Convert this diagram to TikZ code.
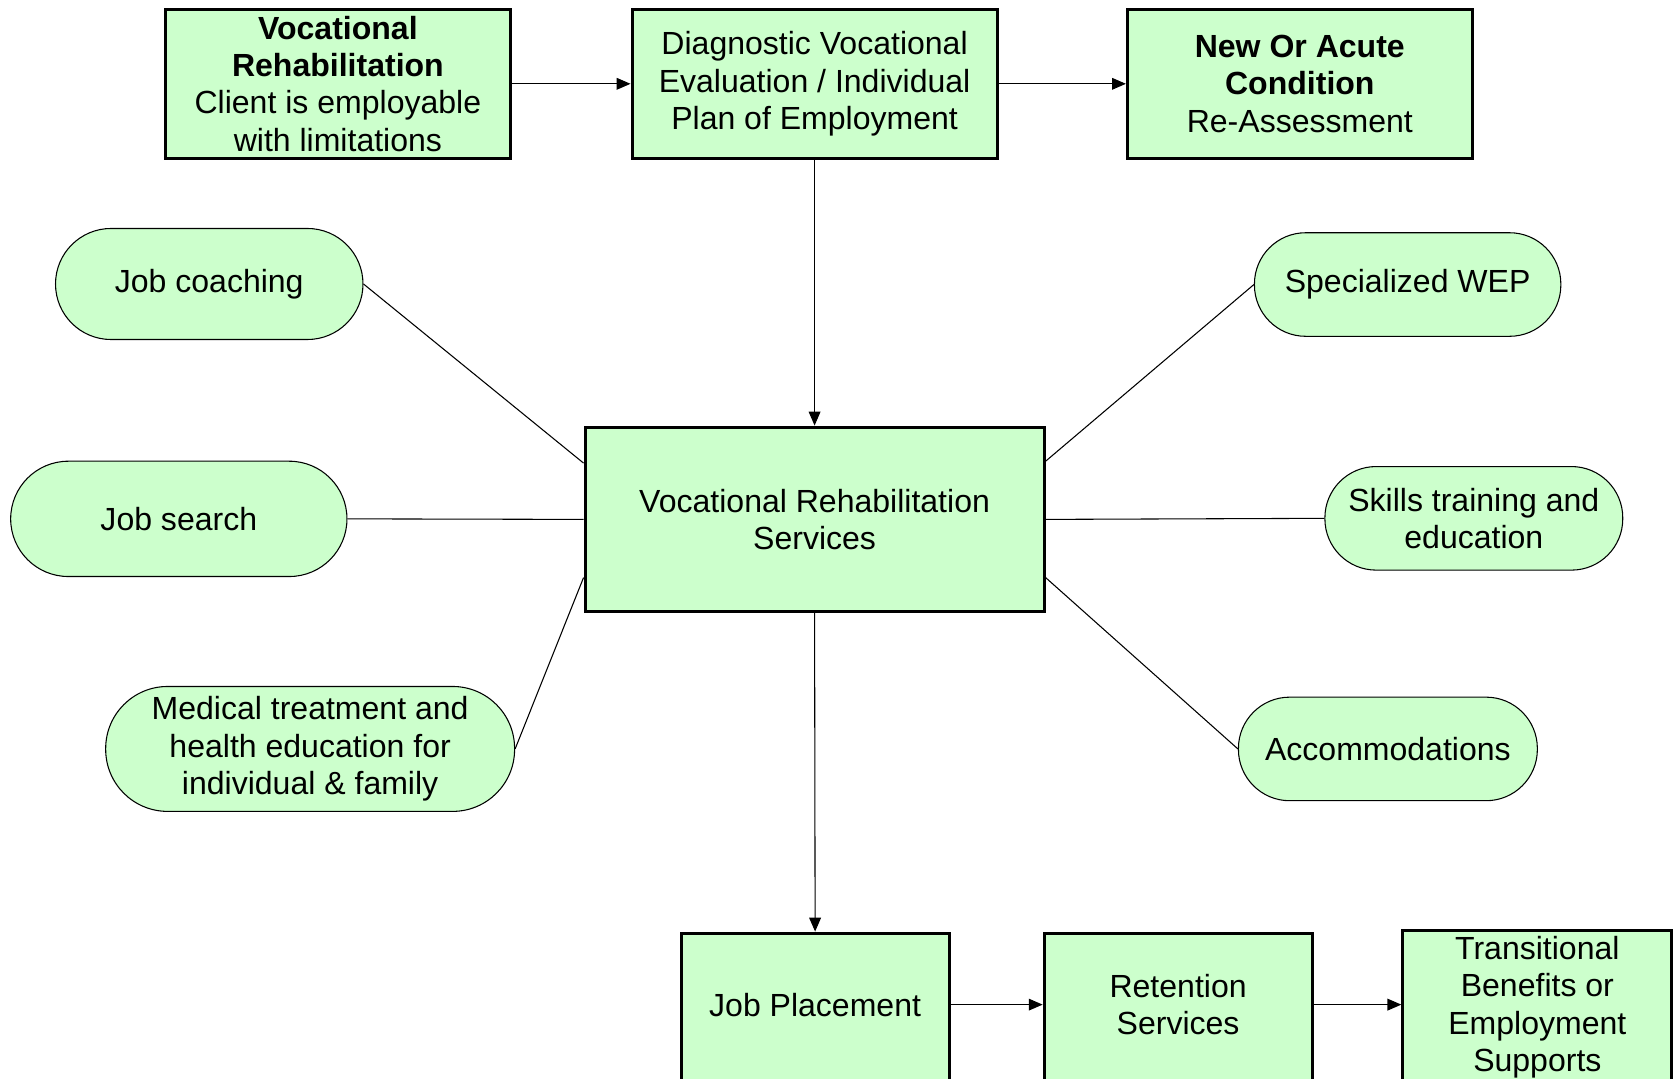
\documentclass[tikz,border=0pt]{standalone}
\usepackage{fontspec}
\setmainfont{Liberation Sans}
\usetikzlibrary{arrows.meta,calc}
\definecolor{boxgreen}{HTML}{CCFFCC}
\begin{document}
\begin{tikzpicture}[x=1pt,y=-1pt,
  every node/.style={font=\fontsize{30}{35}\selectfont, align=center, inner sep=0pt},
  sqbox/.style={draw=black, line width=2.8pt, fill=boxgreen, rectangle},
  pill/.style={draw=black, line width=1pt, fill=boxgreen, rectangle},
  link/.style={draw=black, line width=1pt},
  arr/.style={link, -{Triangle[length=13pt,width=11pt]}}
]
\useasboundingbox (0,0) rectangle (1568,1010);
\clip (0,0) rectangle (1568,1010);
\fill[white] (0,0) rectangle (1568,1010);

% top row
\node[sqbox, minimum width=323pt, minimum height=139pt] (vr) at (316.5,78.5)
  {\textbf{Vocational}\\\textbf{Rehabilitation}\\Client is employable\\with limitations};
\node[sqbox, minimum width=342pt, minimum height=139pt] (diag) at (763,78.5)
  {Diagnostic Vocational\\Evaluation / Individual\\Plan of Employment};
\node[sqbox, minimum width=323pt, minimum height=139pt] (new) at (1217.5,78.5)
  {\textbf{New Or Acute}\\\textbf{Condition}\\Re-Assessment};

% centre
\node[sqbox, minimum width=430pt, minimum height=173pt] (vrs) at (763,486.5)
  {Vocational Rehabilitation\\Services};

% left pills
\node[pill, minimum width=288pt, minimum height=104pt, rounded corners=52pt] (coach) at (196,266) {Job coaching};
\node[pill, minimum width=315pt, minimum height=108pt, rounded corners=54pt] (search) at (167.5,486) {Job search};
\node[pill, minimum width=383pt, minimum height=117pt, rounded corners=58pt] (med) at (290.5,701.5)
  {Medical treatment and\\health education for\\individual \& family};

% right pills
\node[pill, minimum width=287pt, minimum height=97pt, rounded corners=48pt] (wep) at (1318.5,266.5) {Specialized WEP};
\node[pill, minimum width=279pt, minimum height=97pt, rounded corners=48pt] (skills) at (1380.5,485.5)
  {Skills training and\\education};
\node[pill, minimum width=280pt, minimum height=97pt, rounded corners=48pt] (acc) at (1300,701.5) {Accommodations};

% bottom row (boxes run past the lower edge)
\node[sqbox, minimum width=251pt, minimum height=170pt,
  label={[name=jpt, yshift=18pt]center:Job Placement}] (jp) at (763.5,959) {};
\node[sqbox, minimum width=251pt, minimum height=170pt,
  label={[name=rett, yshift=18pt]center:Retention\\Services}] (ret) at (1103.5,959) {};
\node[sqbox, minimum width=252pt, minimum height=172pt,
  label={[name=transt, yshift=14.5pt]center:Transitional\\Benefits or\\Employment\\Supports}] (trans) at (1440,958) {};

% arrows
\draw[arr] (vr.east) -- (diag.west);
\draw[arr] (diag.east) -- (new.west);
\draw[arr] (diag.south) -- (vrs.north);
\draw[arr] (vrs.south) -- (jp.north);
\draw[arr] (jp.east |- jpt.center) -- (ret.west |- jpt.center);
\draw[arr] (ret.east |- jpt.center) -- (trans.west |- jpt.center);

% spokes
\draw[link] (coach.east) -- ($(vrs.north west)!0.2!(vrs.south west)$);
\draw[link] (search.east) -- (vrs.west);
\draw[link] (med.east) -- ($(vrs.north west)!0.81!(vrs.south west)$);
\draw[link] (wep.west) -- ($(vrs.north east)!0.19!(vrs.south east)$);
\draw[link] (skills.west) -- (vrs.east);
\draw[link] (acc.west) -- ($(vrs.north east)!0.81!(vrs.south east)$);
\end{tikzpicture}
\end{document}
